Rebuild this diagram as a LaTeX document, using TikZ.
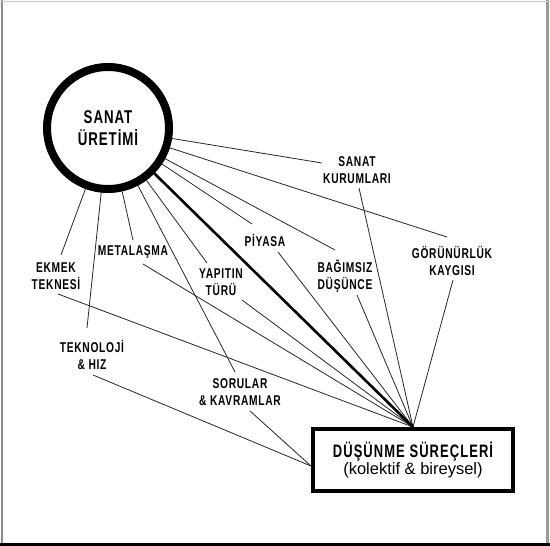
\documentclass[tikz,border=0pt]{standalone}
\usepackage{fontspec}
\setmainfont{Liberation Sans}
\newfontfamily\labfont[FakeStretch=0.72,LetterSpace=5]{Liberation Sans Bold}
\newfontfamily\titfont[FakeStretch=0.72,LetterSpace=6]{Liberation Sans Bold}
\begin{document}
\begin{tikzpicture}[x=1pt,y=-1pt,
  lab/.style={font=\labfont\fontsize{14.2}{17}\selectfont, align=center, inner sep=0pt, text=black},
  conn/.style={line width=0.8pt, draw=black!85},
  heavy/.style={line width=2.6pt, draw=black}]
\useasboundingbox (0,0) rectangle (550,546);
% page frame
\fill[black!45] (1,0) rectangle (3,543);
\fill[black!40] (546,0) rectangle (548.5,543);
\draw[black!20, line width=0.8pt] (0,1) -- (550,1);
\fill[black] (0,542.5) rectangle (550,546);

% main nodes
\node[circle, draw, line width=8pt, minimum size=122pt, inner sep=0pt,
      font=\labfont\fontsize{18.5}{22}\selectfont, align=center] (sanat) at (108,128) {SANAT\\ÜRETİMİ};
\node[draw, line width=4pt, minimum width=200pt, minimum height=62pt, inner sep=0pt, align=center]
   (dus) at (413,460) {{\titfont\fontsize{18}{22}\selectfont DÜŞÜNME SÜREÇLERİ}\\[1pt]{\fontsize{16.5}{20}\selectfont (kolektif \& bireysel)}};
\coordinate (conv) at (dus.north);
\coordinate (lconv) at ([yshift=-6pt]dus.west);

% labels
\node[lab] (kur) at (357,170) {SANAT\\KURUMLARI};
\node[lab] (gor) at (452,261) {GÖRÜNÜRLÜK\\KAYGISI};
\node[lab] (bag) at (345,276) {BAĞIMSIZ\\DÜŞÜNCE};
\node[lab] (piy) at (265,240) {PİYASA};
\node[lab] (yap) at (221,282) {YAPITIN\\TÜRÜ};
\node[lab] (met) at (133,252) {METALAŞMA};
\node[lab] (ekm) at (56,276) {EKMEK\\TEKNESİ};
\node[lab] (tek) at (92,355) {TEKNOLOJİ\\\& HIZ};
\node[lab] (sor) at (240,392) {SORULAR\\\& KAVRAMLAR};

% line ends near labels
\coordinate (kur-i) at (322,163); \coordinate (kur-o) at (359,188);
\coordinate (gor-i) at (447,237); \coordinate (gor-o) at (453,280);
\coordinate (bag-i) at (335,250); \coordinate (bag-o) at (357,295);
\coordinate (piy-i) at (252,224); \coordinate (piy-o) at (278,252);
\coordinate (yap-i) at (207,263); \coordinate (yap-o) at (242,300);
\coordinate (met-i) at (133,240); \coordinate (met-o) at (143,264);
\coordinate (ekm-i) at (61,255);  \coordinate (ekm-o) at (58,294);
\coordinate (tek-i) at (87,328);  \coordinate (tek-o) at (93,375);
\coordinate (sor-i) at (235,372); \coordinate (sor-o) at (250,411);

% connectors
\foreach \n in {kur,gor,bag,piy,yap,met,ekm,tek,sor}
  \draw[conn] (sanat) -- (\n-i);
\foreach \n in {kur,gor,bag,piy,yap,met,ekm}
  \draw[conn] (\n-o) -- (conv);
\foreach \n in {tek,sor}
  \draw[conn] (\n-o) -- (lconv);
\draw[heavy] (sanat) -- (conv);
\end{tikzpicture}
\end{document}
